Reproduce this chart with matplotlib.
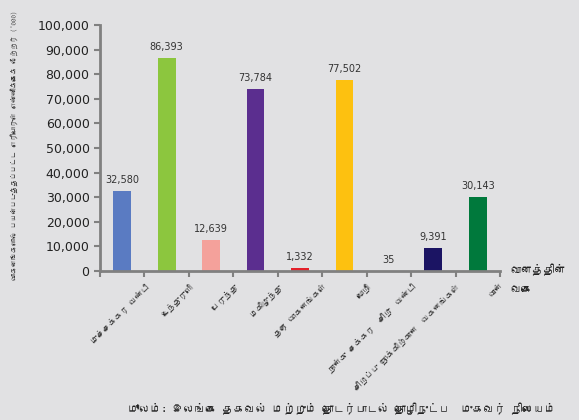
import numpy as np
import matplotlib
matplotlib.use('Agg')
import matplotlib.pyplot as plt
from matplotlib import font_manager
from matplotlib.ft2font import FT2Font

# find a font that has Tamil glyphs, if any
tamil_font = None
for f in font_manager.fontManager.ttflist:
    try:
        ft = FT2Font(f.fname)
        if ft.get_char_index(ord('த')) and ft.get_char_index(ord('க')):
            tamil_font = f.name
            break
    except Exception:
        pass
fams = ([tamil_font] if tamil_font else []) + ['DejaVu Sans']
plt.rcParams['font.family'] = fams

categories = ['முச்சக்கர வண்டி', 'உந்துருளி', 'பேருந்து', 'மகிழுந்து',
              'தரை வாகனங்கள்', 'லொறி', 'நான்கு சக்கர  சிறு  வண்டி',
              'சிறப்பு நோக்கிற்கான  வகனங்கள்', 'வான்']
values = [32580, 86393, 12639, 73784, 1332, 77502, 35, 9391, 30143]
colors = ['#5a7bc2', '#8cc63e', '#f4a19b', '#5b2e8f', '#e3202a',
          '#fdc110', '#d0d0d0', '#1b1463', '#00793c']
yticks = np.arange(0, 100001, 10000)

bg = '#e1e1e3'
fig = plt.figure(figsize=(5.79, 4.20), dpi=100, facecolor=bg)
ax = fig.add_axes([100/579, 1 - 271/420, 400/579, (271-25)/420])
ax.set_facecolor(bg)

x = np.arange(len(values))
ax.bar(x, values, width=0.4, color=colors)
for xi, v in zip(x, values):
    ax.text(xi, v + 2500, f'{v:,}', ha='center', va='bottom', fontsize=7,
            color='#333333', family='DejaVu Sans')

ax.set_xlim(-0.5, 8.5)
ax.set_ylim(0, 100000)
ax.set_yticks(yticks)
ax.set_yticklabels([f'{t:,}' for t in yticks], family='DejaVu Sans')
ax.tick_params(axis='y', labelsize=9, colors='#808080', labelcolor='#222222',
               length=4, width=1.5, direction='out')
ax.set_xticks(np.arange(-0.5, 9, 1))
ax.set_xticklabels([])
ax.tick_params(axis='x', colors='#808080', length=4, width=1.5, direction='out')

for s in ['top', 'right']:
    ax.spines[s].set_visible(False)
for s in ['left', 'bottom']:
    ax.spines[s].set_color('#808080')
    ax.spines[s].set_linewidth(2)

for xi, lab in zip(x, categories):
    ax.text(xi + 0.5, -4500, lab, rotation=45, ha='right', va='top',
            fontsize=6, color='#333333', rotation_mode='anchor')

fig.text(14/579, 1 - 145/420,
         "வாகனங்களால் பயன்படுத்தப்பட்ட எரிபொருள் எண்ணிக்கைக் லீற்றர் ('000)",
         fontsize=5, color='#333333', rotation=90, ha='center', va='center')
fig.text(510/579, 1 - 270/420, 'வானத்தின்', fontsize=8, va='center', color='#222222')
fig.text(510/579, 1 - 290/420, 'வகை', fontsize=8, va='center', color='#222222')
fig.text(128/579, 1 - 409/420,
         'மூலம்: இலங்கை தகவல் மற்றும் தொடர்பாடல் தொழிநுட்ப  முகவர் நிலையம்',
         fontsize=8, va='center', color='#222222')

fig.savefig('out.png', dpi=100, facecolor=bg)
